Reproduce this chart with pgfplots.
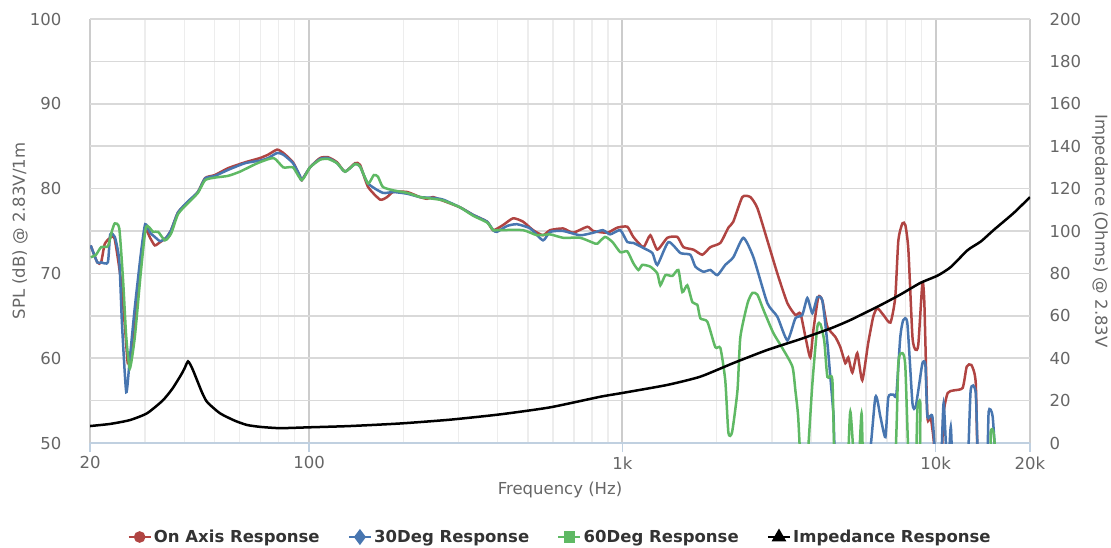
\documentclass[border=0pt]{standalone}
\usepackage{fontspec}
\setmainfont{DejaVu Sans}
\usepackage{pgfplots}
\pgfplotsset{compat=1.18}
\definecolor{cred}{RGB}{176,68,66}
\definecolor{cblue}{RGB}{72,118,176}
\definecolor{cgreen}{RGB}{95,185,100}
\definecolor{tickblue}{RGB}{192,208,224}
\definecolor{labgray}{RGB}{102,102,102}
\definecolor{leggray}{RGB}{51,51,51}
\begin{document}
\begin{tikzpicture}
\useasboundingbox (-90pt,-104pt) rectangle (1021pt,443pt);
\begin{axis}[
  at={(0,0)}, anchor=south west,
  scale only axis, width=940pt, height=424pt,
  xmode=log, xmin=20, xmax=20000, ymin=50, ymax=100,
  axis x line*=bottom, axis y line*=left,
  x axis line style={draw=tickblue, line width=1.5pt},
  y axis line style={draw=none},
  xtick={20,100,1000,10000,20000},
  xticklabels={20,100,1k,10k,20k},
  minor xtick={30,40,50,60,70,80,90,200,300,400,500,600,700,800,900,2000,3000,4000,5000,6000,7000,8000,9000},
  ytick={50,60,70,80,90,100},
  minor ytick={55,65,75,85,95},
  grid=both,
  major x grid style={draw=black!20, line width=2pt},
  minor x grid style={draw=black!7, line width=1.5pt},
  major y grid style={draw=black!15, line width=1.5pt},
  minor y grid style={draw=black!15, line width=1.5pt},
  major tick length=9pt, minor tick length=0pt,
  tick align=outside,
  xtick style={draw=tickblue, line width=1.5pt},
  ytick style={draw=none},
  /pgf/number format/assume math mode=true,
  ticklabel style={font=\fontsize{16.5}{19}\selectfont, text=labgray},
  xticklabel style={yshift=-1pt},
  yticklabel style={xshift=-16pt},
  xlabel={Frequency (Hz)},
  ylabel={SPL (dB) @ 2.83V/1m},
  label style={font=\fontsize{16.5}{19}\selectfont, text=labgray},
  xlabel style={at={(axis description cs:0.5,0)}, anchor=center, yshift=-47pt},
  ylabel style={at={(axis description cs:0,0.5)}, anchor=center, yshift=70pt},
  legend columns=4,
  legend style={at={(0.5,0)}, anchor=center, yshift=-94pt, draw=none, fill=none,
    font=\fontsize{16.5}{19}\selectfont\bfseries, text=leggray,
    /tikz/every even column/.append style={column sep=26pt}},
  legend image code/.code={\draw[mark repeat=2,mark phase=2,#1] plot coordinates {(0pt,0pt) (11pt,0pt) (22pt,0pt)};},
  every axis plot/.append style={smooth, tension=0.35},
]
\addplot[cred, line width=2.5pt, forget plot] table {
20.1 73.3
21.1 71.3
21.7 71.3
22.3 73.5
23.4 74.3
24.0 74.0
25.1 69.2
25.9 63.3
26.4 59.4
27.0 60.5
27.8 64.9
29.1 71.9
30.0 75.2
31.1 74.2
32.2 73.3
33.5 73.7
35.0 74.2
36.3 75.1
38.2 77.2
41.1 78.4
44.2 79.6
46.6 81.25
50.1 81.6
55.1 82.4
62.5 83.1
69.7 83.6
74.0 84.0
79.1 84.6
82.8 84.2
88.9 83.1
93.6 81.4
94.8 81.0
100.7 82.5
108.4 83.6
115 83.7
122.9 83.1
130.3 82.0
140.2 83.0
145.5 82.8
154.3 80.2
168.6 78.7
177.4 79.0
185.5 79.6
205.5 79.6
226 79.0
238 78.8
249 79.0
262 78.7
303 77.8
334 76.9
370 76.1
387 75.1
416 75.7
448 76.5
482 76.1
519 75.1
558 74.5
588 75.1
647 75.3
696 74.8
773 75.5
808 75.0
895 74.8
964 75.4
1037 75.5
1084 74.3
1167 73.1
1228 74.5
1293 72.8
1392 74.2
1498 74.3
1566 73.1
1686 72.8
1800 72.2
1910 73.1
2055 73.6
2180 75.4
2260 76.1
2415 79.0
2562 79.0
2697 77.7
2902 73.9
3123 70.0
3362 66.5
3566 65.1
3700 65.3
3840 62.5
3980 60.1
4070 63.3
4220 67.2
4348 66.8
4511 63.7
4784 62.5
4962 61.3
5150 59.4
5260 60.1
5420 58.3
5620 60.6
5830 57.4
6090 61.8
6320 64.9
6510 65.9
6810 65.1
7170 64.2
7430 67.2
7600 73.9
7830 75.9
8000 75.7
8180 72.8
8430 62.5
8620 61.0
8800 61.6
9070 68.9
9200 66.5
9410 53.1
9630 53.1
9850 50.4
10070 46
10370 46
10600 53.5
10920 55.9
11410 56.2
12190 56.5
12560 59.0
13000 59.2
13420 57.1
13620 46
};
\addplot[cblue, line width=2.5pt, forget plot] table {
20.1 73.3
21.1 71.3
21.7 71.3
22.8 71.3
23.2 74.6
24.0 74.3
24.8 71.5
25.3 64
26.1 56.0
26.8 60.0
27.8 66
29.1 72.5
30.0 75.8
31.1 74.8
32.2 74.3
33.5 73.8
35.0 74.2
36.3 75.1
38.2 77.2
41.1 78.5
44.2 79.6
46.6 81.2
50.1 81.5
55.1 82.2
62.5 83.0
69.7 83.3
74.0 83.6
79.1 84.2
82.8 84.0
88.9 83.0
93.6 81.5
94.8 81.0
100.7 82.5
108.4 83.5
115 83.6
122.9 83.0
130.3 82.0
140.2 82.9
145.5 82.6
154.3 80.6
172 79.5
185.5 79.6
205.5 79.4
226 79.0
249 78.9
268 78.7
303 77.8
334 76.9
370 76.1
387 75.1
398 74.9
429 75.6
461 75.8
508 75.3
558 73.9
588 74.9
647 75.0
733 74.5
808 74.8
867 75.1
914 74.6
985 75.1
1037 73.7
1084 73.6
1167 73.0
1247 72.4
1293 71.0
1403 73.7
1532 72.4
1648 72.2
1710 70.8
1813 70.2
1910 70.4
2010 69.8
2130 71.0
2260 71.9
2433 74.2
2620 71.9
2902 66.5
3123 64.9
3362 62.1
3566 64.7
3753 65.1
3894 67.1
4040 65.3
4191 67.2
4348 66.8
4511 61.8
4610 57.8
4715 53.5
4855 46
6000 46
6420 55.4
6660 53.1
6910 50.7
7060 55.4
7330 55.7
7490 55.7
7710 62.5
7880 64.5
8120 64.1
8430 54.7
8620 54.2
8800 56.2
9070 59.4
9270 59.2
9410 53.1
9760 53.1
10070 46
10370 46
10600 54.7
10920 46
11170 51.9
11410 46
12560 46
12930 56.2
13420 55.9
13720 46
14540 46
14760 53.7
15200 53.1
15650 46
};
\addplot[cgreen, line width=2.5pt, forget plot] table {
20.1 71.9
20.9 72.2
21.7 73.1
22.8 73.2
23.5 75.0
24.0 75.9
24.8 75.3
25.5 69.2
26.1 62.5
26.8 58.8
27.8 62.5
29.1 70.4
30.2 75.5
31.8 74.9
33.0 74.9
34.7 73.9
36.3 74.7
38.2 77.0
41.1 78.3
44.2 79.5
46.6 81.0
50.1 81.3
55.1 81.5
60.2 82.0
68.5 83.0
77.1 83.6
82.8 82.5
88.9 82.5
94.8 81.0
100.7 82.5
108.4 83.4
115 83.5
122.9 83.0
130.3 82.0
140.2 82.9
145.5 82.6
154.3 80.6
161 81.6
166 81.4
172 80.2
185.5 79.8
205.5 79.5
226 79.0
249 78.8
268 78.6
303 77.8
334 76.8
370 76.0
387 75.1
398 75.1
482 75.1
534 74.5
588 74.6
647 74.2
733 74.2
808 73.6
832 73.5
880 74.3
930 73.7
985 72.5
1037 72.6
1084 71.2
1125 70.4
1158 71.0
1228 70.8
1293 70.0
1322 68.6
1372 69.8
1444 69.7
1509 70.4
1554 67.8
1612 68.6
1673 66.6
1735 66.3
1774 64.7
1868 64.3
1980 61.3
2055 61.2
2130 57.4
2180 51.2
2240 51.3
2330 56.2
2380 62.5
2510 66.5
2600 67.7
2697 67.5
2820 65.7
3030 63.0
3240 61.2
3490 59.0
3566 56.2
3640 53.1
3730 46
3860 46
4040 57
4190 63.7
4290 64.0
4410 62
4511 57.8
4680 57.4
4784 46
5200 46
5340 53.7
5530 46
5660 46
5800 53.5
5960 46
7330 46
7600 59.4
7830 60.6
8000 59
8240 46
8620 46
8740 53.9
8930 54.7
9200 46
14540 46
14980 51.3
15300 51.2
15770 46
};
\addlegendimage{cred, line width=2.5pt, mark=*, mark size=4.5pt}
\addlegendentry{On Axis Response}
\addlegendimage{cblue, line width=2.5pt, mark=diamond*, mark size=6pt}
\addlegendentry{30Deg Response}
\addlegendimage{cgreen, line width=2.5pt, mark=square*, mark size=4.5pt}
\addlegendentry{60Deg Response}
\addlegendimage{black, line width=2.5pt, mark=triangle*, mark size=6pt}
\addlegendentry{Impedance Response}
\end{axis}
\begin{axis}[
  at={(0,0)}, anchor=south west,
  scale only axis, width=940pt, height=424pt,
  xmode=log, xmin=20, xmax=20000, ymin=0, ymax=200,
  axis x line=none, axis y line*=right,
  y axis line style={draw=none},
  ytick={0,20,40,60,80,100,120,140,160,180,200},
  ytick style={draw=none},
  /pgf/number format/assume math mode=true,
  ticklabel style={font=\fontsize{16.5}{19}\selectfont, text=labgray},
  yticklabel style={xshift=16pt},
  ylabel={Impedance (Ohms) @ 2.83V},
  ylabel style={font=\fontsize{16.5}{19}\selectfont, text=labgray, at={(axis description cs:1,0.5)}, anchor=center, rotate=180, yshift=70pt},
]
\addplot[black, line width=2.5pt, smooth, tension=0.35] table {
20 8.0
23.2 9.0
26.8 10.8
30.4 14.0
34.1 20.0
36.6 25.5
39.0 32.0
40.0 35.0
41.1 38.5
42.3 35.5
43.9 29.7
45.5 24
47.3 19.3
52.0 14.0
58.0 10.5
63.4 8.5
70 7.6
80.8 7.0
100 7.4
135 8.0
195 9.2
282 11.0
407 13.5
587 16.8
849 21.8
1000 23.6
1392 27.4
1774 31.3
2260 37.7
2902 43.9
3700 49
4610 54
5340 58
6660 65
7710 70
8930 75.5
10150 79
11170 83
12650 91
13920 95
15320 100.5
17740 108.5
20000 116
};
\end{axis}
\end{tikzpicture}
\end{document}
